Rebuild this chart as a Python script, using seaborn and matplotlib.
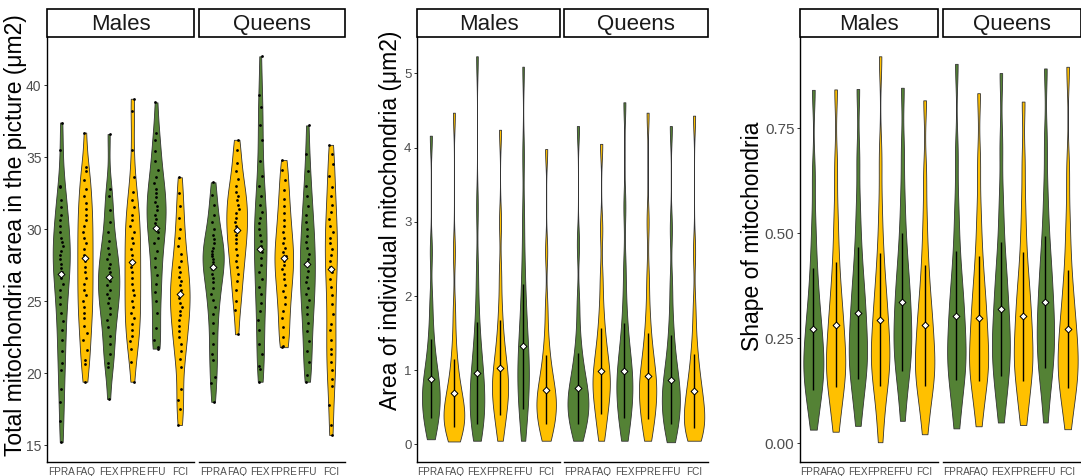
import numpy as np
import pandas as pd
import matplotlib
matplotlib.use("Agg")
import matplotlib.pyplot as plt
import seaborn as sns
from matplotlib.patches import Rectangle
from matplotlib.ticker import FormatStrFormatter

sns.set_style("white")
plt.rcParams['font.family'] = ['Liberation Sans', 'DejaVu Sans']

groups = ["FPRA", "FAQ", "FEX", "FPRE", "FFU", "FCI"]
castes = ["Males", "Queens"]
green, gold = "#548235", "#FFC000"
group_colors = [green, gold, green, gold, green, gold]

# total mitochondria area per picture (individual points)
total_males = [
    [15.2, 16.7, 18.0, 18.9, 20.2, 20.7, 21.5, 22.3, 23.0, 23.6, 24.2, 24.8, 25.3, 25.8, 26.2, 26.6, 27.0, 27.3,
     27.6, 27.9, 28.2, 28.5, 28.8, 29.1, 29.4, 29.8, 30.2, 30.6, 31.0, 31.5, 32.0, 32.9, 33.0, 35.5, 37.4],
    [19.4, 20.6, 20.9, 21.6, 22.3, 22.8, 23.3, 23.8, 24.2, 24.6, 25.0, 25.4, 25.8, 26.2, 26.6, 27.0, 27.4, 27.8,
     28.2, 28.6, 29.0, 29.4, 29.8, 30.2, 30.6, 31.0, 31.4, 31.8, 32.3, 32.8, 33.4, 34.0, 34.3, 36.7],
    [18.2, 20.4, 20.7, 21.3, 22.0, 22.6, 23.2, 23.7, 24.1, 24.5, 24.9, 25.2, 25.5, 25.8, 26.1, 26.4, 26.7, 27.0,
     27.3, 27.6, 27.9, 28.3, 28.7, 29.2, 29.8, 30.5, 31.3, 32.3, 32.8, 36.6],
    [19.4, 20.8, 21.7, 22.2, 22.6, 23.0, 23.4, 23.8, 24.2, 24.6, 25.0, 25.4, 25.8, 26.2, 26.6, 27.0, 27.4, 27.8,
     28.2, 28.6, 29.0, 29.4, 29.8, 30.2, 30.6, 31.0, 31.5, 32.0, 32.6, 33.6, 35.5, 38.2, 39.05],
    [21.7, 21.8, 22.3, 23.1, 24.2, 25.0, 25.6, 26.2, 26.8, 27.4, 28.0, 28.5, 29.0, 29.4, 29.8, 30.1, 30.4, 30.7,
     31.0, 31.3, 31.6, 31.9, 32.2, 32.5, 32.8, 33.2, 33.6, 34.1, 34.7, 35.4, 36.2, 36.7, 38.8],
    [16.4, 17.5, 18.1, 18.9, 20.4, 21.0, 21.5, 22.0, 22.5, 22.9, 23.3, 23.7, 24.0, 24.3, 24.6, 24.9, 25.2, 25.5,
     25.8, 26.1, 26.4, 26.7, 27.0, 27.4, 27.8, 28.3, 28.8, 29.4, 30.0, 30.8, 31.6, 32.5, 33.6],
]
total_queens = [
    [18.0, 19.3, 19.7, 20.9, 21.3, 22.0, 22.8, 23.5, 24.1, 24.6, 25.1, 25.5, 25.9, 26.3, 26.6, 26.9, 27.2, 27.5,
     27.7, 27.9, 28.1, 28.3, 28.5, 28.7, 29.0, 29.3, 29.6, 30.0, 30.5, 31.0, 31.7, 32.4, 33.25],
    [22.7, 24.4, 25.0, 25.8, 26.4, 26.9, 27.4, 27.8, 28.2, 28.6, 29.0, 29.3, 29.6, 29.9, 30.2, 30.5, 30.8, 31.1,
     31.4, 31.7, 32.0, 32.3, 32.6, 33.0, 33.5, 34.0, 34.6, 35.5, 36.2],
    [19.4, 20.3, 20.5, 21.3, 22.0, 23.0, 23.7, 24.3, 24.9, 25.5, 26.0, 26.5, 27.0, 27.5, 28.0, 28.4, 28.8, 29.2,
     29.6, 30.0, 30.4, 30.8, 31.2, 31.7, 32.3, 33.0, 33.7, 34.7, 36.2, 37.2, 38.5, 39.3, 42.0],
    [21.8, 21.9, 22.5, 23.2, 23.8, 24.3, 24.8, 25.3, 25.7, 26.1, 26.5, 26.9, 27.2, 27.5, 27.8, 28.1, 28.4, 28.7,
     29.0, 29.4, 29.8, 30.2, 30.6, 31.1, 31.6, 32.1, 32.7, 33.4, 34.1, 34.8],
    [19.4, 19.9, 20.8, 21.5, 22.2, 22.9, 23.5, 24.1, 24.6, 25.1, 25.5, 25.9, 26.3, 26.7, 27.1, 27.5, 27.9, 28.3,
     28.7, 29.1, 29.5, 30.0, 30.5, 31.0, 31.6, 32.3, 33.0, 34.0, 35.2, 37.2],
    [15.7, 16.4, 17.8, 19.1, 19.6, 20.2, 20.8, 21.3, 21.7, 22.3, 23.0, 23.4, 24.1, 24.8, 25.4, 26.0, 26.5, 27.0,
     27.4, 27.8, 28.2, 28.6, 29.0, 29.4, 29.8, 30.2, 30.7, 31.2, 31.7, 32.3, 32.9, 33.7, 34.5, 35.2, 35.85],
]
total_mean_males = [26.9, 27.96, 26.7, 27.7, 30.1, 25.5]
total_mean_queens = [27.4, 29.96, 28.65, 28.0, 27.55, 27.25]

# area of individual mitochondria (distribution read as quantiles)
area_males = [
    [0.07, 0.16, 0.25, 0.33, 0.40, 0.46, 0.52, 0.58, 0.63, 0.69, 0.75, 0.81, 0.87, 0.94, 1.02, 1.12, 1.24, 1.40, 1.62, 1.95, 2.6, 4.16],
    [0.04, 0.10, 0.16, 0.21, 0.26, 0.30, 0.34, 0.38, 0.42, 0.47, 0.52, 0.57, 0.63, 0.70, 0.78, 0.88, 1.00, 1.16, 1.40, 1.80, 2.6, 4.47],
    [0.05, 0.14, 0.23, 0.31, 0.38, 0.45, 0.52, 0.59, 0.66, 0.73, 0.80, 0.88, 0.96, 1.05, 1.15, 1.27, 1.42, 1.62, 1.90, 2.35, 3.2, 5.23],
    [0.05, 0.20, 0.32, 0.42, 0.50, 0.57, 0.64, 0.70, 0.76, 0.82, 0.88, 0.95, 1.02, 1.10, 1.19, 1.30, 1.44, 1.62, 1.88, 2.3, 3.0, 4.24],
    [0.05, 0.25, 0.40, 0.52, 0.62, 0.72, 0.81, 0.90, 0.99, 1.08, 1.17, 1.27, 1.38, 1.50, 1.64, 1.80, 2.00, 2.25, 2.6, 3.1, 3.9, 5.09],
    [0.05, 0.13, 0.21, 0.28, 0.34, 0.40, 0.45, 0.50, 0.55, 0.60, 0.65, 0.70, 0.76, 0.83, 0.91, 1.00, 1.11, 1.26, 1.48, 1.85, 2.6, 3.98],
]
area_queens = [
    [0.05, 0.14, 0.22, 0.29, 0.35, 0.41, 0.46, 0.51, 0.56, 0.61, 0.66, 0.71, 0.77, 0.84, 0.92, 1.01, 1.12, 1.27, 1.50, 1.90, 2.7, 4.29],
    [0.05, 0.20, 0.33, 0.43, 0.52, 0.60, 0.67, 0.74, 0.80, 0.86, 0.92, 0.99, 1.06, 1.14, 1.23, 1.34, 1.47, 1.64, 1.88, 2.25, 2.9, 4.05],
    [0.05, 0.18, 0.30, 0.40, 0.48, 0.56, 0.63, 0.70, 0.77, 0.84, 0.91, 0.98, 1.06, 1.14, 1.24, 1.36, 1.50, 1.70, 1.98, 2.4, 3.2, 4.61],
    [0.05, 0.17, 0.28, 0.37, 0.45, 0.52, 0.59, 0.66, 0.72, 0.78, 0.84, 0.91, 0.98, 1.06, 1.15, 1.26, 1.40, 1.58, 1.84, 2.25, 3.0, 4.47],
    [0.03, 0.13, 0.22, 0.30, 0.37, 0.44, 0.50, 0.56, 0.62, 0.68, 0.74, 0.81, 0.88, 0.96, 1.05, 1.16, 1.30, 1.48, 1.74, 2.15, 2.9, 4.29],
    [0.05, 0.09, 0.14, 0.19, 0.24, 0.29, 0.34, 0.39, 0.45, 0.51, 0.57, 0.63, 0.70, 0.78, 0.87, 0.97, 1.09, 1.25, 1.48, 1.85, 2.6, 4.43],
]
area_mean_males = [0.887, 0.695, 0.963, 1.03, 1.32, 0.74]
area_sd_males = [0.537, 0.46, 0.685, 0.64, 0.84, 0.47]
area_mean_queens = [0.757, 0.995, 0.995, 0.927, 0.874, 0.716]
area_sd_queens = [0.475, 0.58, 0.645, 0.58, 0.605, 0.50]

# shape of mitochondria (distribution read as quantiles)
shape_males = [
    [0.032, 0.07, 0.10, 0.12, 0.14, 0.155, 0.17, 0.185, 0.20, 0.215, 0.23, 0.25, 0.27, 0.29, 0.31, 0.34, 0.37, 0.41, 0.46, 0.53, 0.64, 0.842],
    [0.027, 0.07, 0.10, 0.125, 0.145, 0.16, 0.175, 0.19, 0.205, 0.22, 0.24, 0.26, 0.28, 0.30, 0.325, 0.35, 0.385, 0.425, 0.48, 0.55, 0.66, 0.843],
    [0.041, 0.09, 0.12, 0.145, 0.165, 0.185, 0.20, 0.215, 0.23, 0.25, 0.27, 0.29, 0.31, 0.33, 0.355, 0.38, 0.41, 0.45, 0.50, 0.57, 0.68, 0.844],
    [0.002, 0.06, 0.10, 0.13, 0.15, 0.17, 0.185, 0.20, 0.215, 0.23, 0.25, 0.27, 0.29, 0.31, 0.335, 0.36, 0.39, 0.43, 0.48, 0.56, 0.68, 0.922],
    [0.053, 0.11, 0.145, 0.17, 0.19, 0.21, 0.23, 0.245, 0.26, 0.28, 0.30, 0.32, 0.34, 0.36, 0.385, 0.41, 0.44, 0.48, 0.53, 0.60, 0.70, 0.847],
    [0.021, 0.07, 0.10, 0.125, 0.145, 0.16, 0.175, 0.19, 0.205, 0.22, 0.24, 0.26, 0.28, 0.30, 0.32, 0.35, 0.38, 0.42, 0.47, 0.54, 0.64, 0.817],
]
shape_queens = [
    [0.035, 0.08, 0.115, 0.14, 0.16, 0.18, 0.195, 0.21, 0.225, 0.245, 0.265, 0.285, 0.305, 0.325, 0.35, 0.375, 0.405, 0.445, 0.50, 0.57, 0.69, 0.904],
    [0.04, 0.085, 0.115, 0.14, 0.16, 0.175, 0.19, 0.205, 0.22, 0.24, 0.26, 0.28, 0.30, 0.32, 0.345, 0.37, 0.40, 0.44, 0.49, 0.56, 0.67, 0.834],
    [0.049, 0.095, 0.125, 0.15, 0.17, 0.19, 0.21, 0.225, 0.24, 0.26, 0.28, 0.30, 0.32, 0.345, 0.37, 0.395, 0.425, 0.465, 0.52, 0.59, 0.71, 0.882],
    [0.043, 0.085, 0.115, 0.14, 0.16, 0.18, 0.195, 0.21, 0.225, 0.245, 0.265, 0.285, 0.305, 0.325, 0.35, 0.375, 0.405, 0.445, 0.50, 0.57, 0.67, 0.814],
    [0.049, 0.11, 0.145, 0.17, 0.19, 0.21, 0.23, 0.25, 0.265, 0.285, 0.305, 0.325, 0.345, 0.37, 0.395, 0.42, 0.45, 0.49, 0.54, 0.61, 0.72, 0.893],
    [0.033, 0.075, 0.105, 0.125, 0.145, 0.16, 0.175, 0.19, 0.205, 0.22, 0.24, 0.255, 0.275, 0.295, 0.32, 0.345, 0.375, 0.415, 0.47, 0.54, 0.65, 0.897],
]
shape_mean_males = [0.272, 0.2825, 0.31, 0.294, 0.336, 0.281]
shape_sd_males = [0.145, 0.149, 0.1575, 0.159, 0.164, 0.1445]
shape_mean_queens = [0.304, 0.298, 0.32, 0.302, 0.337, 0.272]
shape_sd_queens = [0.154, 0.149, 0.1595, 0.1535, 0.157, 0.1415]

W, H = 1081, 476
fig = plt.figure(figsize=(W / 100, H / 100), dpi=100)


def px_axes(x0, x1, y0=37, y1=461.5):
    return fig.add_axes([x0 / W, 1 - y1 / H, (x1 - x0) / W, (y1 - y0) / H])


def to_frame(vals):
    return pd.DataFrame({"group": np.repeat(groups, [len(v) for v in vals]),
                         "value": np.concatenate(vals)})


def facet(ax, vals, means, sds, caste, ylim, bw, points=False, first=True, ysize=10):
    df = to_frame(vals)
    sns.violinplot(data=df, x="group", y="value", hue="group", order=groups, hue_order=groups,
                   palette=dict(zip(groups, group_colors)), legend=False, cut=0, inner=None,
                   bw_method="silverman", bw_adjust=bw, density_norm="area", common_norm=True,
                   width=0.9, linewidth=0.6, linecolor="#333333", saturation=1, ax=ax)
    if points:
        sns.stripplot(data=df, x="group", y="value", order=groups, color="black", size=2.0,
                      jitter=0.08, ax=ax, zorder=3)
    xs = np.arange(len(groups))
    if sds is not None:
        m, s = np.array(means), np.array(sds)
        ax.vlines(xs, m - s, m + s, color="black", lw=1.0, zorder=4)
    ax.scatter(xs, means, marker="D", s=12, facecolor="white", edgecolor="black",
               linewidths=0.7, zorder=5)
    ax.set_xlim(-0.6, 5.6)
    ax.set_ylim(*ylim)
    ax.set_xlabel("")
    ax.set_ylabel("")
    for sp in ["top", "right"]:
        ax.spines[sp].set_visible(False)
    ax.spines["bottom"].set_linewidth(1.0)
    ax.spines["bottom"].set_color("black")
    ax.tick_params(axis="x", length=2.5, width=0.7, color="#333333", labelcolor="#4d4d4d",
                   labelsize=7.2, pad=1.5)
    if first:
        ax.spines["left"].set_linewidth(1.0)
        ax.spines["left"].set_color("black")
        ax.tick_params(axis="y", left=True, length=2.5, width=0.7, color="#333333",
                       labelcolor="#4d4d4d", labelsize=ysize, pad=1.5)
    else:
        ax.spines["left"].set_visible(False)
        ax.tick_params(axis="y", left=False, labelleft=False)
    # strip
    sh = 28 / 424.5
    ax.add_patch(Rectangle((0, 1), 1, sh, transform=ax.transAxes, clip_on=False,
                           facecolor="white", edgecolor="black", lw=1.2))
    ax.text(0.5, 1 + 6.5 / 424.5, caste, transform=ax.transAxes, ha="center", va="baseline",
            fontsize=16, color="#1a1a1a")


def limits(*lists):
    allv = np.concatenate([np.concatenate(l) for l in lists])
    lo, hi = allv.min(), allv.max()
    r = hi - lo
    return lo - 0.05 * r, hi + 0.05 * r


# panel 1
lim1 = limits(total_males, total_queens)
a = px_axes(47, 194)
facet(a, total_males, total_mean_males, None, "Males", lim1, 0.6, points=True, ysize=10)
a.set_yticks([15, 20, 25, 30, 35, 40])
b = px_axes(199, 345)
facet(b, total_queens, total_mean_queens, None, "Queens", lim1, 0.6, points=True, first=False)
fig.text(16 / W, 1 - 235 / H, "Total mitochondria area in the picture (\u03bcm2)", rotation=90,
         ha="center", va="center", fontsize=16.5, color="black")

# panel 2
lim2 = limits(area_males, area_queens)
a = px_axes(417, 560)
facet(a, area_males, area_mean_males, area_sd_males, "Males", lim2, 0.4, ysize=9.5)
a.set_yticks([0, 1, 2, 3, 4, 5])
b = px_axes(564, 708)
facet(b, area_queens, area_mean_queens, area_sd_queens, "Queens", lim2, 0.4, first=False)
fig.text(391 / W, 1 - 220 / H, "Area of individual mitochondria (\u03bcm2)", rotation=90,
         ha="center", va="center", fontsize=16.5, color="black")

# panel 3
lim3 = limits(shape_males, shape_queens)
a = px_axes(800, 938)
facet(a, shape_males, shape_mean_males, shape_sd_males, "Males", lim3, 0.45, ysize=11)
a.set_yticks([0, 0.25, 0.5, 0.75])
a.yaxis.set_major_formatter(FormatStrFormatter("%.2f"))
b = px_axes(943, 1081)
facet(b, shape_queens, shape_mean_queens, shape_sd_queens, "Queens", lim3, 0.45, first=False)
fig.text(753 / W, 1 - 236 / H, "Shape of mitochondria", rotation=90,
         ha="center", va="center", fontsize=16.5, color="black")

fig.savefig("out.png", dpi=100)
